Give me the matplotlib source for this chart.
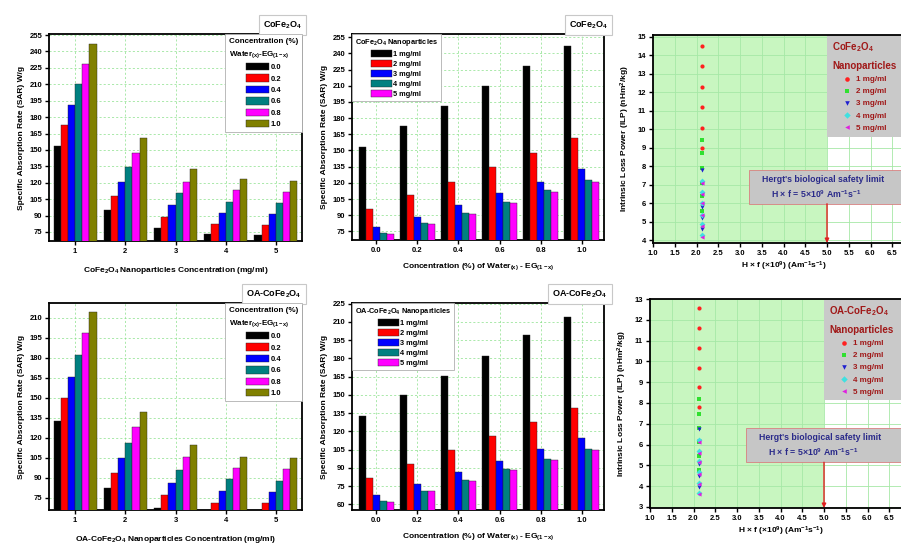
import matplotlib
matplotlib.use('Agg')
import matplotlib.pyplot as plt
import numpy as np
from matplotlib.patches import Rectangle

plt.rcParams['font.family'] = ['Liberation Sans', 'DejaVu Sans']
plt.rcParams['font.weight'] = 'bold'
plt.rcParams['axes.labelweight'] = 'bold'
plt.rcParams['mathtext.fontset'] = 'custom'
plt.rcParams['mathtext.bf'] = 'Liberation Sans:bold'
plt.rcParams['mathtext.rm'] = 'Liberation Sans:bold'
plt.rcParams['mathtext.it'] = 'Liberation Sans:bold:italic'
plt.rcParams['mathtext.default'] = 'bf'

# ---- данные ----
water_frac = [0.0, 0.2, 0.4, 0.6, 0.8, 1.0]
water_labels = ['0.0', '0.2', '0.4', '0.6', '0.8', '1.0']
np_conc = [1, 2, 3, 4, 5]
conc_labels = ['1 mg/ml', '2 mg/ml', '3 mg/ml', '4 mg/ml', '5 mg/ml']

# SAR (W/g), CoFe2O4, по долям воды 0.0 ... 1.0
sar_cofe_1mg = [153.5, 172.5, 190.8, 210.0, 228.4, 246.7]
sar_cofe_2mg = [95.4, 108.3, 121.0, 134.6, 147.4, 161.2]
sar_cofe_3mg = [78.7, 88.7, 99.4, 110.7, 121.0, 132.7]
sar_cofe_4mg = [73.2, 82.6, 92.4, 102.5, 112.9, 123.0]
sar_cofe_5mg = [72.2, 81.7, 91.5, 101.6, 111.6, 121.2]

# SAR (W/g), OA-CoFe2O4
sar_oa_1mg = [132.8, 149.5, 165.8, 182.0, 198.8, 214.0]
sar_oa_2mg = [82.0, 93.3, 104.5, 116.3, 127.8, 139.4]
sar_oa_3mg = [67.6, 76.8, 86.3, 95.8, 105.3, 114.6]
sar_oa_4mg = [62.7, 71.3, 80.0, 89.0, 97.5, 105.8]
sar_oa_5mg = [61.6, 70.8, 79.3, 87.8, 96.3, 104.8]

# ILP (nHm^2/kg)
hf_applied = 2.12
ilp_cofe_1mg = [9.0, 10.1, 11.2, 12.3, 13.4, 14.5]
ilp_cofe_2mg = [5.6, 6.4, 7.1, 7.9, 8.7, 9.4]
ilp_cofe_3mg = [4.6, 5.2, 5.8, 6.5, 7.1, 7.8]
ilp_cofe_4mg = [4.3, 4.9, 5.4, 6.0, 6.6, 7.2]
ilp_cofe_5mg = [4.2, 4.8, 5.4, 6.0, 6.5, 7.1]

ilp_oa_1mg = [7.8, 8.75, 9.7, 10.65, 11.6, 12.55]
ilp_oa_2mg = [4.8, 5.45, 6.1, 6.8, 7.45, 8.2]
ilp_oa_3mg = [3.95, 4.5, 5.05, 5.6, 6.15, 6.75]
ilp_oa_4mg = [3.65, 4.15, 4.7, 5.2, 5.7, 6.2]
ilp_oa_5mg = [3.6, 4.1, 4.6, 5.15, 5.6, 6.1]

hergt_limit = 5.0

sar_cofe = [sar_cofe_1mg, sar_cofe_2mg, sar_cofe_3mg, sar_cofe_4mg, sar_cofe_5mg]
sar_oa = [sar_oa_1mg, sar_oa_2mg, sar_oa_3mg, sar_oa_4mg, sar_oa_5mg]
ilp_cofe = [ilp_cofe_1mg, ilp_cofe_2mg, ilp_cofe_3mg, ilp_cofe_4mg, ilp_cofe_5mg]
ilp_oa = [ilp_oa_1mg, ilp_oa_2mg, ilp_oa_3mg, ilp_oa_4mg, ilp_oa_5mg]

water_colors = ['#000000', '#ff0000', '#0000ff', '#008080', '#ff00ff', '#808000']
conc_colors = ['#000000', '#ff0000', '#0000ff', '#008080', '#ff00ff']
ilp_colors = ['#ff2020', '#30e030', '#2020d0', '#40e0e0', '#e020e0']
ilp_markers = ['o', 's', 'v', 'D', '<']

W, H = 901, 544
fig = plt.figure(figsize=(W / 100, H / 100), dpi=100)


def add_axes_px(left, top, right, bottom):
    return fig.add_axes([left / W, 1 - bottom / H, (right - left) / W, (bottom - top) / H])


def style_axes(ax):
    for s in ax.spines.values():
        s.set_linewidth(1.3)
    ax.tick_params(direction='out', length=3, width=1, labelsize=5.5, pad=2)


def title_box(ax, text, x=1.0):
    ax.text(x, 1.015, text, transform=ax.transAxes, ha='right', va='bottom', fontsize=6.5,
            bbox=dict(boxstyle='square,pad=0.45', fc='white', ec='#c8c8c8', lw=0.8))


def bar_legend(ax, loc, title, big=False):
    if big:
        leg = ax.legend(loc=loc, borderaxespad=0, title=title, fontsize=5.5, title_fontsize=5.8,
                        handlelength=3.0, handleheight=1.1, handletextpad=0.2, labelspacing=0.42,
                        fancybox=False, edgecolor='#b0b0b0', framealpha=1, borderpad=0.5)
        leg.get_title().set_linespacing(1.6)
    else:
        leg = ax.legend(loc=loc, borderaxespad=0, title=title, fontsize=5.3, title_fontsize=5.3,
                        handlelength=2.8, handleheight=1.0, handletextpad=0.2, labelspacing=0.3,
                        fancybox=False, edgecolor='#b0b0b0', framealpha=1, borderpad=0.4)
    leg.get_frame().set_linewidth(0.6)
    return leg


# Панель: SAR по концентрации НЧ, серии = доля воды
def plot_sar_by_conc(ax, sar, yticks, ylim, xlabel, name):
    w = 0.143
    for j, wf in enumerate(water_labels):
        vals = [row[j] for row in sar]
        ax.bar(np.array(np_conc) + (j - 2.5) * w, vals, width=w, color=water_colors[j],
               edgecolor='#222222', linewidth=0.3, label=wf, zorder=3)
    ax.set_xlim(0.48, 5.52)
    ax.set_ylim(*ylim)
    ax.set_xticks(np_conc)
    ax.set_yticks(yticks)
    ax.grid(True, color='#88e088', linestyle='--', linewidth=0.5, dashes=(3, 3))
    ax.set_axisbelow(True)
    ax.set_xlabel(xlabel, fontsize=6, labelpad=7)
    ax.set_ylabel('Specific Absorption Rate (SAR) W/g', fontsize=6, labelpad=3)
    style_axes(ax)
    bar_legend(ax, 'upper right', 'Concentration (%)\nWater$_{(x)}$-EG$_{(1-x)}$', big=True)
    title_box(ax, name)


# Панель: SAR по доле воды, серии = концентрация НЧ
def plot_sar_by_water(ax, sar, yticks, ylim, legend_title, name):
    w = 0.034
    for i, lab in enumerate(conc_labels):
        ax.bar(np.array(water_frac) + (i - 2) * w, sar[i], width=w, color=conc_colors[i],
               edgecolor='#222222', linewidth=0.3, label=lab, zorder=3)
    ax.set_xlim(-0.117, 1.107)
    ax.set_ylim(*ylim)
    ax.set_xticks(water_frac)
    ax.set_xticklabels(water_labels)
    ax.set_yticks(yticks)
    ax.grid(True, color='#88e088', linestyle='--', linewidth=0.5, dashes=(3, 3))
    ax.set_axisbelow(True)
    ax.set_xlabel('Concentration (%) of Water$_{(x)}$ - EG$_{(1-x)}$', fontsize=6, labelpad=5)
    ax.set_ylabel('Specific Absorption Rate (SAR) W/g', fontsize=6, labelpad=3)
    style_axes(ax)
    bar_legend(ax, 'upper left', legend_title)
    title_box(ax, name, x=1.015)


# Панель: ILP и предел Hergt
def plot_ilp(ax, ilp, ylim, yticks, leg_bottom, box_y, name):
    ax.set_xlim(1.0, 7.0)
    ax.set_ylim(*ylim)
    ax.axvspan(1.0, hergt_limit, fc='#c8f6c0', ec='none', zorder=0)
    ax.add_patch(Rectangle((hergt_limit, leg_bottom), 2.0, ylim[1] - leg_bottom,
                           fc='#c9c9c9', ec='none', zorder=1))
    ax.grid(True, color='#a6e8a6', linewidth=0.6)
    ax.set_axisbelow(True)
    handles = []
    for i, lab in enumerate(conc_labels):
        h = ax.scatter([hf_applied] * len(ilp[i]), ilp[i], marker=ilp_markers[i], s=9,
                       color=ilp_colors[i], label=lab, zorder=4, linewidths=0)
        handles.append(h)
    leg = ax.legend(handles=handles, loc='upper left', bbox_to_anchor=(0.667, 1.0),
                    frameon=False, title=name + '\nNanoparticles', fontsize=5.8,
                    title_fontsize=7, labelcolor='#a01818', handlelength=1.2,
                    handletextpad=0.6, labelspacing=0.55, borderpad=0.15, markerscale=1.1)
    leg.get_title().set_color('#a01818')
    leg.get_title().set_linespacing(1.9)
    leg.set_zorder(5)
    # Hergt
    y0, y1 = box_y
    ax.add_patch(Rectangle((3.21, y0), 3.79, y1 - y0, fc='#c6c6c6', ec='#d88080',
                           lw=0.6, zorder=3))
    ym = y1 - (y1 - y0) * 0.28
    ax.text(4.9, ym, "Hergt's biological safety limit", ha='center', va='center',
            fontsize=6.3, color='#2a2a8a', zorder=4)
    ax.text(4.75, y0 + (y1 - y0) * 0.29, 'H \u00d7 $f$ = 5\u00d710$^9$ Am$^{-1}$s$^{-1}$',
            ha='center', va='center', fontsize=6.3, color='#2a2a8a', zorder=4)
    ax.annotate('', xy=(hergt_limit, ylim[0]), xytext=(hergt_limit, y0),
                arrowprops=dict(arrowstyle='-|>', color='#e02020', lw=1.0,
                                mutation_scale=6, shrinkA=0, shrinkB=0), zorder=4)
    xt = np.arange(1.0, 6.51, 0.5)
    ax.set_xticks(xt)
    ax.set_xticklabels(['%.1f' % v for v in xt])
    ax.set_yticks(yticks)
    ax.set_xlabel('H \u00d7 $f$ (\u00d710$^9$) (Am$^{-1}$s$^{-1}$)', fontsize=6, labelpad=2)
    ax.set_ylabel('Intrinsic Loss Power (ILP) (nHm$^2$/kg)', fontsize=6, labelpad=4)
    style_axes(ax)
    ax.spines['right'].set_visible(False)


ax1 = add_axes_px(49, 34, 302, 241)
plot_sar_by_conc(ax1, sar_cofe, np.arange(75, 256, 15), (66.7, 256),
                 'CoFe$_2$O$_4$ Nanoparticles Concentration (mg/ml)', 'CoFe$_2$O$_4$')

ax2 = add_axes_px(352, 34, 604, 240)
plot_sar_by_water(ax2, sar_cofe, np.arange(75, 256, 15), (67.0, 258),
                  'CoFe$_2$O$_4$ Nanoparticles', 'CoFe$_2$O$_4$')

ax3 = add_axes_px(653, 35, 914, 243)
plot_ilp(ax3, ilp_cofe, (3.86, 15.1), np.arange(4, 16, 1), 9.6, (5.98, 7.81), 'CoFe$_2$O$_4$')

ax4 = add_axes_px(49, 303, 302, 510)
plot_sar_by_conc(ax4, sar_oa, np.arange(75, 211, 15), (65.8, 221),
                 'OA-CoFe$_2$O$_4$ Nanoparticles Concentration (mg/ml)', 'OA-CoFe$_2$O$_4$')

ax5 = add_axes_px(352, 303, 604, 510)
plot_sar_by_water(ax5, sar_oa, np.arange(60, 226, 15), (55.3, 225.5),
                  'OA-CoFe$_2$O$_4$ Nanoparticles', 'OA-CoFe$_2$O$_4$')

ax6 = add_axes_px(650, 299, 911, 508)
plot_ilp(ax6, ilp_oa, (2.95, 13.0), np.arange(3, 14, 1), 8.16, (5.15, 6.8), 'OA-CoFe$_2$O$_4$')

fig.savefig('out.png', dpi=100)
